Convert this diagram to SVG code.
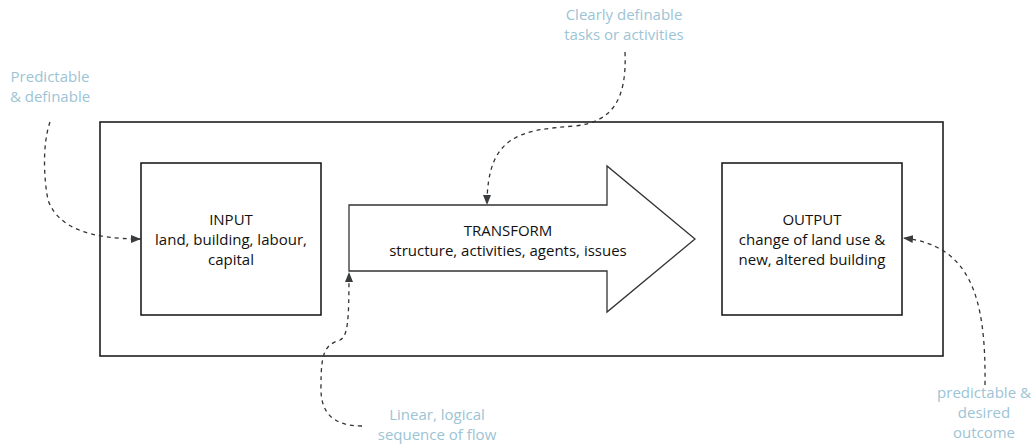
<svg xmlns="http://www.w3.org/2000/svg" width="1036" height="445" viewBox="0 0 1036 445">
  <style>
    .box { fill: #ffffff; stroke: #111111; stroke-width: 1.5; }
    .shape { fill: #ffffff; stroke: #333333; stroke-width: 1.3; }
    .lbl { font-family: "Open Sans", "Liberation Sans", sans-serif; font-size: 15px; fill: #111111; text-anchor: middle; }
    .note { font-family: "Open Sans", "Liberation Sans", sans-serif; font-size: 15px; fill: #9cc4d5; text-anchor: middle; }
    .link { fill: none; stroke: #333333; stroke-width: 1.3; stroke-dasharray: 4 4; }
  </style>
  <defs>
    <marker id="head" viewBox="0 0 10 10" refX="10" refY="5" markerWidth="10" markerHeight="10" markerUnits="userSpaceOnUse" orient="auto">
      <path d="M0,1 L10,5 L0,9 Z" fill="#3a3d3f"/>
    </marker>
  </defs>
  <rect width="1036" height="445" fill="#ffffff"/>

  <!-- enclosing system frame -->
  <g id="frame">
    <rect class="box" x="100" y="122" width="843" height="234"/>
  </g>

  <g id="input">
    <rect class="box" x="141" y="163" width="180" height="152"/>
    <text class="lbl" x="231" y="225">INPUT</text>
    <text class="lbl" x="231" y="245">land, building, labour,</text>
    <text class="lbl" x="231" y="265">capital</text>
  </g>

  <g id="transform">
    <path class="shape" d="M349,205 L607,205 L607,166 L695,239 L607,312 L607,271 L349,271 Z"/>
    <text class="lbl" x="508" y="236">TRANSFORM</text>
    <text class="lbl" x="508" y="256">structure, activities, agents, issues</text>
  </g>

  <g id="output">
    <rect class="box" x="722" y="163" width="180" height="152"/>
    <text class="lbl" x="812" y="225">OUTPUT</text>
    <text class="lbl" x="812" y="245">change of land use &amp;</text>
    <text class="lbl" x="812" y="265">new, altered building</text>
  </g>

  <g id="notes">
    <text class="note" x="50" y="82">Predictable</text>
    <text class="note" x="50" y="102">&amp; definable</text>
    <text class="note" x="624" y="20">Clearly definable</text>
    <text class="note" x="624" y="40">tasks or activities</text>
    <text class="note" x="437" y="420">Linear, logical</text>
    <text class="note" x="437" y="440">sequence of flow</text>
    <text class="note" x="984" y="398">predictable &amp;</text>
    <text class="note" x="984" y="418">desired</text>
    <text class="note" x="984" y="438">outcome</text>
  </g>

  <g id="connectors">
    <path class="link" marker-end="url(#head)" d="M50,122 C42,145 44,180 48,200 C58,228 90,239 141,239"/>
    <path class="link" marker-end="url(#head)" d="M625,52 C627,100 612,122 575,126 C520,130 487,135 487,205"/>
    <path class="link" marker-end="url(#head)" d="M362,426 C330,426 320,410 321,385 C321,352 325,345 340,340 C348,336 349,320 349,272"/>
    <path class="link" marker-end="url(#head)" d="M985,385 C986,300 972,245 903,238"/>
  </g>
</svg>
